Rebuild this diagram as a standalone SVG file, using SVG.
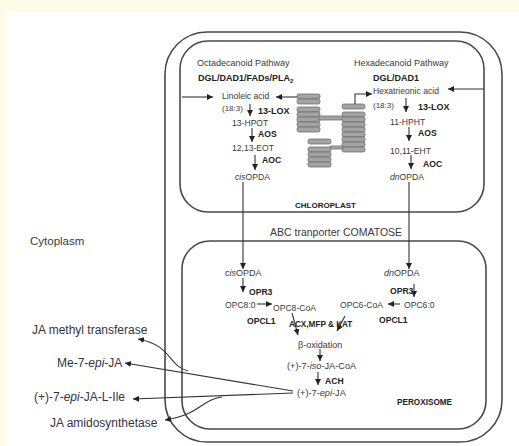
<svg xmlns="http://www.w3.org/2000/svg" width="519" height="446" viewBox="0 0 519 446">
<defs>
<style>
text{font-family:"Liberation Sans",Arial,sans-serif;fill:#3a3a3a}
.s{font-size:8.6px}
.b{font-size:8.6px;font-weight:bold;fill:#222}
.h{font-size:9px}
.l{font-size:12px;fill:#333344}
.m{font-size:9px}
.comp{fill:none;stroke:#4a4a4a;stroke-width:1.6}
.ln{fill:none;stroke:#333;stroke-width:1.1}
.ar{marker-end:url(#ah)}
.g{fill:#a3a3a3;stroke:#707070;stroke-width:0.8}
</style>
<marker id="ah" viewBox="0 0 10 10" refX="10" refY="5" markerWidth="6" markerHeight="6" markerUnits="userSpaceOnUse" orient="auto">
<path d="M0,0L10,5L0,10z" fill="#222"/>
</marker>
</defs>
<rect x="0" y="0" width="519" height="446" fill="#fffbe6"/>
<rect x="6" y="11" width="513" height="435" fill="#ffffff"/>

<g id="cell"><rect class="comp" x="165" y="32" width="337" height="410" rx="42"/></g>
<g id="chloroplast"><rect class="comp" x="180" y="41" width="304" height="171" rx="28"/>
<text class="b" x="295" y="208" style="font-size:8px">CHLOROPLAST</text></g>
<g id="peroxisome"><rect class="comp" x="182" y="241" width="304" height="188" rx="28"/>
<text class="b" x="397" y="405" style="font-size:8.2px">PEROXISOME</text></g>

<g id="thylakoid">
<rect class="g" x="297" y="94" width="23" height="5" rx="2"/>
<rect class="g" x="297" y="99" width="23" height="5" rx="2"/>
<rect class="g" x="297" y="107" width="23" height="5" rx="2"/>
<rect class="g" x="297" y="112" width="23" height="5" rx="2"/>
<rect class="g" x="297" y="117" width="23" height="5" rx="2"/>
<rect class="g" x="297" y="122" width="23" height="5" rx="2"/>
<rect class="g" x="297" y="127" width="23" height="5" rx="2"/>
<rect class="g" x="319" y="116" width="24" height="4"/>
<rect class="g" x="342" y="104" width="23" height="5" rx="2"/>
<rect class="g" x="342" y="112" width="23" height="5" rx="2"/>
<rect class="g" x="342" y="117" width="23" height="5" rx="2"/>
<rect class="g" x="342" y="122" width="23" height="5" rx="2"/>
<rect class="g" x="342" y="127" width="23" height="5" rx="2"/>
<rect class="g" x="342" y="132" width="23" height="5" rx="2"/>
<rect class="g" x="342" y="137" width="23" height="5" rx="2"/>
<rect class="g" x="342" y="142" width="23" height="5" rx="2"/>
<rect class="g" x="342" y="147" width="23" height="5" rx="2"/>
<rect class="g" x="330" y="146" width="13" height="3"/>
<rect class="g" x="308" y="139" width="23" height="5" rx="2"/>
<rect class="g" x="308" y="147" width="23" height="5" rx="2"/>
<rect class="g" x="308" y="152" width="23" height="5" rx="2"/>
<rect class="g" x="308" y="157" width="23" height="5" rx="2"/>
<rect class="g" x="308" y="162" width="23" height="5" rx="2"/>
</g>

<g id="connectors">
<line class="ln ar" x1="182" y1="97" x2="213" y2="97"/>
<line class="ln ar" x1="297" y1="97" x2="276" y2="97"/>
<line class="ln ar" x1="250" y1="104" x2="250" y2="116"/>
<line class="ln ar" x1="252" y1="128" x2="252" y2="142"/>
<line class="ln ar" x1="255" y1="155" x2="255" y2="170"/>
<line class="ln ar" x1="243" y1="182" x2="243" y2="269"/>
<path class="ln ar" d="M355,104V94H372"/>
<line class="ln ar" x1="484" y1="89" x2="448" y2="89"/>
<line class="ln ar" x1="406" y1="98" x2="406" y2="112"/>
<line class="ln ar" x1="409" y1="127" x2="409" y2="141"/>
<line class="ln ar" x1="411" y1="155" x2="411" y2="169"/>
<line class="ln ar" x1="409" y1="182" x2="409" y2="269"/>
<line class="ln ar" x1="243" y1="278" x2="243" y2="292"/>
<line class="ln ar" x1="257" y1="304" x2="272" y2="304"/>
<line class="ln ar" x1="292" y1="313" x2="298" y2="335"/>
<line class="ln ar" x1="345" y1="316" x2="337" y2="331"/>
<line class="ln ar" x1="400" y1="304" x2="388" y2="304"/>
<line class="ln ar" x1="414" y1="284" x2="414" y2="297"/>
<line class="ln ar" x1="320" y1="349" x2="320" y2="361"/>
<line class="ln ar" x1="318" y1="372" x2="318" y2="385"/>
<line class="ln ar" x1="293" y1="391" x2="125" y2="363"/>
<line class="ln ar" x1="293" y1="393" x2="133" y2="399"/>
<path class="ln ar" d="M222,397C200,400 202,414 165,420"/>
<path class="ln ar" d="M188,371C168,366 172,345 138,339"/>
</g>

<g id="octadecanoid">
<text class="h" x="197" y="66">Octadecanoid  Pathway</text>
<text class="b" x="198" y="81" style="font-size:9px">DGL/DAD1/FADs/PLA<tspan style="font-size:6px" dy="2">2</tspan></text>
<text class="s" x="222" y="99">Linoleic acid</text>
<text class="s" x="222" y="111" style="font-size:8px">(18:3)</text>
<text class="b" x="258" y="114" style="font-size:9px">13-LOX</text>
<text class="s" x="232" y="126">13-HPOT</text>
<text class="b" x="258" y="137">AOS</text>
<text class="s" x="232" y="151">12,13-EOT</text>
<text class="b" x="262" y="163">AOC</text>
<text class="s" x="235" y="180"><tspan font-style="italic">cis</tspan>OPDA</text>
</g>

<g id="hexadecanoid">
<text class="h" x="354" y="66">Hexadecanoid  Pathway</text>
<text class="b" x="373" y="81" style="font-size:9px">DGL/DAD1</text>
<text class="s" x="373" y="94">Hexatrieonic acid</text>
<text class="s" x="373" y="108" style="font-size:8px">(18:3)</text>
<text class="b" x="418" y="110" style="font-size:9px">13-LOX</text>
<text class="s" x="390" y="125">11-HPHT</text>
<text class="b" x="418" y="136">AOS</text>
<text class="s" x="390" y="154">10,11-EHT</text>
<text class="b" x="423" y="167">AOC</text>
<text class="s" x="390" y="180"><tspan font-style="italic">dn</tspan>OPDA</text>
</g>

<g id="transporter"><text x="270" y="236" style="font-size:10.5px">ABC tranporter COMATOSE</text></g>
<g id="cytoplasm"><text x="30" y="245" style="font-size:11.5px">Cytoplasm</text></g>

<g id="peroxisome-steps">
<text class="m" x="225" y="276"><tspan font-style="italic">cis</tspan>OPDA</text>
<text class="b" x="249" y="295">OPR3</text>
<text class="s" x="225" y="308">OPC8:0</text>
<text class="s" x="273" y="311">OPC8-CoA</text>
<text class="b" x="247" y="324">OPCL1</text>
<text class="b" x="289" y="327" style="font-size:8.2px">ACX,MFP &amp; KAT</text>
<text class="s" x="340" y="308">OPC6-CoA</text>
<text class="s" x="404" y="308">OPC6:0</text>
<text class="m" x="384" y="276"><tspan font-style="italic">dn</tspan>OPDA</text>
<text class="b" x="390" y="294">OPR3</text>
<text class="b" x="379" y="323">OPCL1</text>
<text class="m" x="298" y="348">β-oxidation</text>
<text class="s" x="287" y="369" style="font-size:9.2px">(+)-7-<tspan font-style="italic">iso</tspan>-JA-CoA</text>
<text class="b" x="325" y="384">ACH</text>
<text class="s" x="297" y="396" style="font-size:9.2px">(+)-7-<tspan font-style="italic">epi</tspan>-JA</text>
</g>

<g id="outputs">
<text class="l" x="32" y="334">JA methyl transferase</text>
<text class="l" x="57" y="367">Me-7-<tspan font-style="italic">epi</tspan>-JA</text>
<text class="l" x="34" y="401">(+)-7-<tspan font-style="italic">epi</tspan>-JA-L-Ile</text>
<text class="l" x="50" y="427">JA amidosynthetase</text>
</g>
</svg>
